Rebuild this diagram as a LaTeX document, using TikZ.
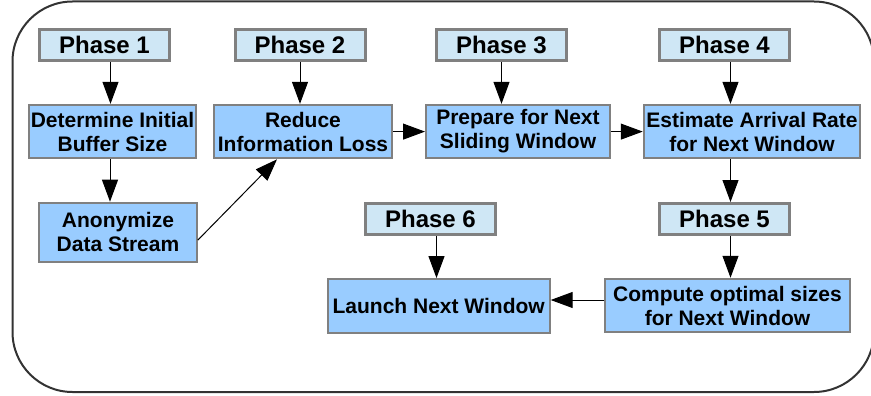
\documentclass[tikz,border=0pt]{standalone}
\usepackage{fontspec}
\setmainfont{Liberation Sans}
\usepackage{tikz}
\usetikzlibrary{arrows.meta,calc,positioning}
\definecolor{phaseblue}{HTML}{CFE7F5}
\definecolor{taskblue}{HTML}{99CCFF}
\definecolor{boxgray}{HTML}{808080}
\definecolor{framegray}{HTML}{333333}

\begin{document}
\begin{tikzpicture}[x = 1pt, y = -1pt]
	\tikzstyle{phase} = [rectangle, draw = boxgray, line width = 3pt, fill = phaseblue, minimum width = 130pt, minimum height = 31pt, inner sep = 0pt, font = \fontsize{24}{28}\selectfont\bfseries]
	\tikzstyle{task} = [rectangle, draw = boxgray, line width = 2pt, fill = taskblue, minimum height = 53.5pt, inner sep = 0pt, align = center, font = \fontsize{21}{24}\selectfont\bfseries]
	\tikzstyle{link} = [draw = black, line width = 1pt, -{Triangle[length = 22pt, width = 16pt]}]
\useasboundingbox (0, 0) rectangle (871, 396);
\draw[framegray, line width = 2pt, rounded corners = 60pt] (12.5, 1.5) rectangle (874, 392);
\node[phase] (1) at (104.5, 45) {Phase 1};
\node[phase] (2) at (300, 45) {Phase 2};
\node[phase] (3) at (501.5, 45) {Phase 3};
\node[phase] (4) at (724.5, 45) {Phase 4};
\node[phase] (5) at (724.5, 219) {Phase 5};
\node[phase] (6) at (430.5, 219) {Phase 6};
\node[task, minimum width = 167.5pt] (7) at (112.5, 131.6) {Determine Initial\\Buffer Size};
\node[task, minimum width = 157.5pt, minimum height = 59pt] (8) at (118, 232.2) {Anonymize\\Data Stream};
\node[task, minimum width = 178.5pt] (9) at (303, 131.6) {Reduce\\Information Loss};
\node[task, minimum width = 184pt] (10) at (518, 131.6) {Prepare for Next\\Sliding Window};
\node[task, minimum width = 216.5pt] (11) at (752, 131.6) {Estimate Arrival Rate\\for Next Window};
\node[task, minimum width = 244.5pt] (12) at (727.5, 305.5) {Compute optimal sizes\\for Next Window};
\node[task, minimum width = 222pt] (13) at (438.7, 305.8) {Launch Next Window};
	% phase arrows
	\path[link] ([xshift = 6pt]1.south) -- ([xshift = 6pt]1.south |- 7.north);
	\path[link] (2.south) -- (2.south |- 9.north);
	\path[link] (3.south) -- (3.south |- 10.north);
	\path[link] ([xshift = 6pt]4.south) -- ([xshift = 6pt]4.south |- 11.north);
	\path[link] ([xshift = 6pt]5.south) -- ([xshift = 6pt]5.south |- 12.north);
	\path[link] ([xshift = 6pt]6.south) -- ([xshift = 6pt]6.south |- 13.north);
	% task arrows
	\path[link] ([xshift = -2.5pt]7.south) -- ([xshift = -2.5pt]7.south |- 8.north);
	\path[link] ([yshift = -8pt]8.east) -- ([xshift = -26pt]9.south);
	\path[link] (9.east) -- (10.west);
	\path[link] (10.east) -- (11.west);
	\path[link] ([xshift = 6pt]5.north |- 11.south) -- ([xshift = 6pt]5.north);
	\path[link] ([yshift = 5.5pt]12.west) -- ([yshift = 5.5pt]12.west -| 13.east);
\end{tikzpicture}
\end{document}
